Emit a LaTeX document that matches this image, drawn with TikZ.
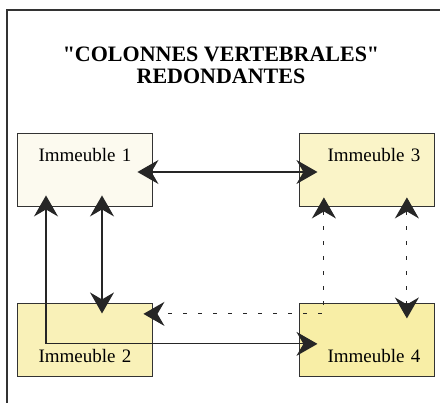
\documentclass[tikz,border=0pt]{standalone}
\usepackage{fontspec}
\setmainfont{Liberation Serif}[Ligatures=TeXOff]
\usetikzlibrary{arrows.meta, positioning}
\definecolor{paleA}{HTML}{FCFAEF}
\definecolor{paleB}{HTML}{FAF4C8}
\definecolor{paleC}{HTML}{F9F1B8}
\definecolor{paleD}{HTML}{F8EEA6}

\begin{document}
\begin{tikzpicture}[x=1pt, y=-1pt,
      node distance=97pt and 146pt,
      bldg/.style={rectangle, draw=black!80, line width=0.9pt,
                   inner xsep=7pt, inner ysep=0pt, text width=121pt,
                   align=center, font=\fontsize{19}{22}\selectfont},
      bldgr/.style={bldg, inner xsep=14pt, text width=107pt, align=right},
      atop/.style={text height=29pt, text depth=44pt},
      abot/.style={text height=59pt, text depth=14pt},
      heading/.style={align=center, font=\fontsize{22}{22}\selectfont\bfseries},
      link/.style={line width=1.1pt, black!85,
                   {Stealth[length=21pt,width=24pt,inset=7pt]}-{Stealth[length=21pt,width=24pt,inset=7pt]}},
      faint/.style={link, dash pattern=on 4pt off 11pt}
    ]
    \useasboundingbox (0,0) rectangle (440,403);
    \draw[line width=1.3pt, black!80] (7,403) |- (440,10);
    \node[heading] (title) at (221,65) {"COLONNES VERTEBRALES"\\REDONDANTES};
    \node[bldg, atop, fill=paleA] (imm1) at (85,169.5) {Immeuble 1};
    \node[bldgr, atop, fill=paleB, right=of imm1] (imm3) {Immeuble 3};
    \node[bldg, abot, fill=paleC, below=of imm1] (imm2) {Immeuble 2};
    \node[bldgr, abot, fill=paleD, below=of imm3] (imm4) {Immeuble 4};
    \draw[link] ([shift={(-15.5,2.5)}]imm1.east) -- ([shift={(18.5,2.5)}]imm3.west);
    \draw[link] ([shift={(17,-11)}]imm1.south) -- ([shift={(17,10)}]imm2.north);
    \draw[link] ([shift={(-39,-11)}]imm1.south) |- ([shift={(18.5,3.5)}]imm4.west);
    \draw[faint] ([shift={(-43,-9)}]imm3.south) |- ([shift={(-9.5,-26.5)}]imm2.east);
    \draw[faint] ([shift={(40,-9)}]imm3.south) -- ([shift={(40,15)}]imm4.north);
  \end{tikzpicture}
\end{document}
